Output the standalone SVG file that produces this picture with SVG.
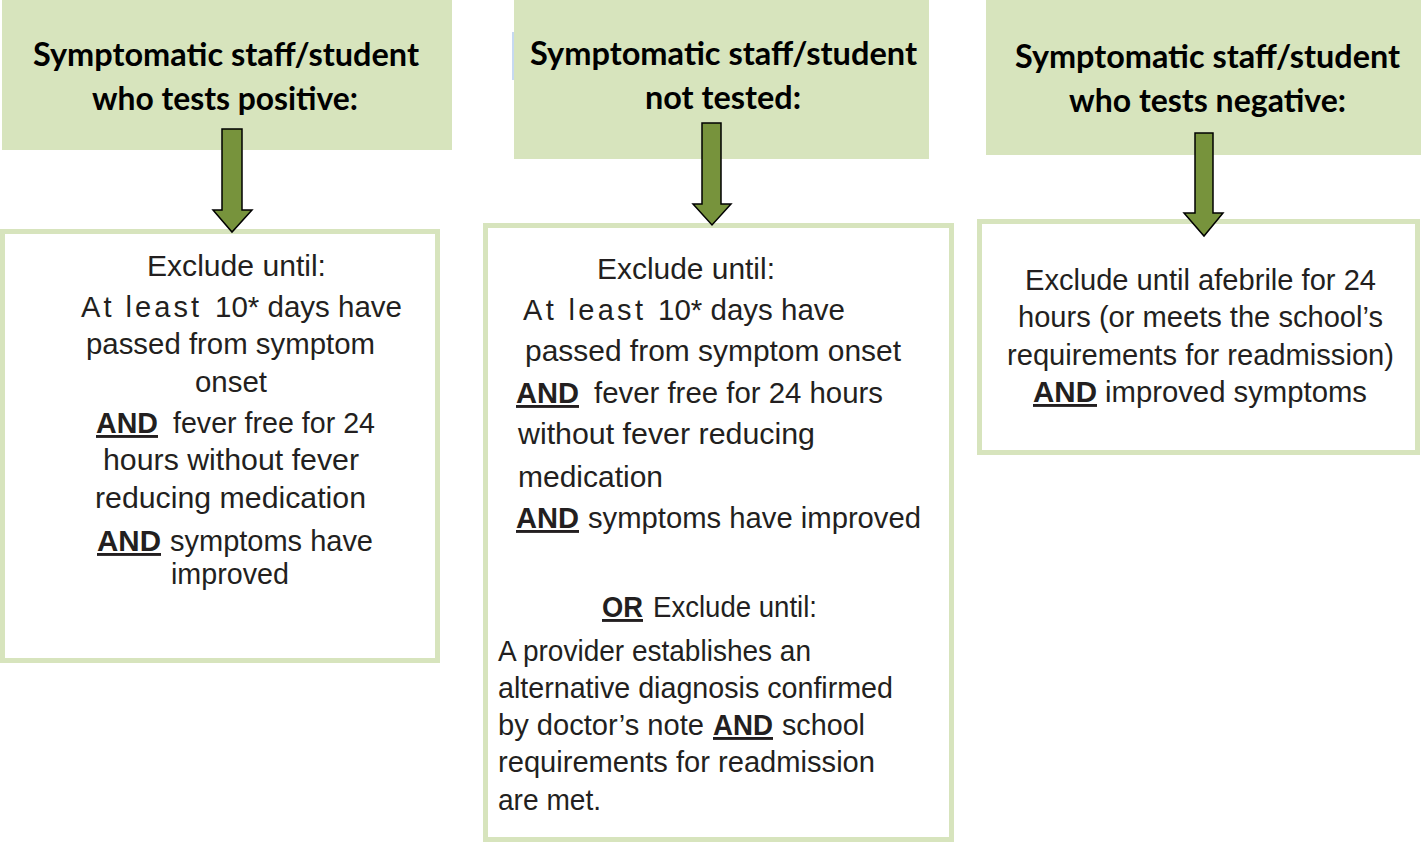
<svg xmlns="http://www.w3.org/2000/svg" width="1421" height="842" viewBox="0 0 1421 842">
<style>
.hbox{fill:#d7e4bd;stroke:none}
.box{fill:#ffffff;stroke:#d7e4bd;stroke-width:5}
.hdr{font-family:Lato,"Open Sans","Liberation Sans",sans-serif;font-weight:700;font-size:32px;fill:#000000}
.t{font-family:"Liberation Sans",Arial,sans-serif;font-size:29px;fill:#231f20}
.b{font-weight:700;text-decoration:underline}
.arrow{fill:#77933c;stroke:#000000;stroke-width:1.5;stroke-linejoin:miter}
</style>
<rect width="1421" height="842" fill="#ffffff"/>

<g id="header-positive">
  <rect class="hbox" x="2" y="0" width="450" height="150"/>
  <text class="hdr" x="33" y="66" textLength="386" lengthAdjust="spacingAndGlyphs">Symptomatic staff/student</text>
  <text class="hdr" x="92" y="110" textLength="266" lengthAdjust="spacingAndGlyphs">who tests positive:</text>
</g>

<g id="header-not-tested">
  <rect x="512" y="32" width="2" height="48" fill="#c6d9f1"/>
  <rect class="hbox" x="514" y="0" width="415" height="159"/>
  <text class="hdr" x="530" y="65" textLength="387" lengthAdjust="spacingAndGlyphs">Symptomatic staff/student</text>
  <text class="hdr" x="645" y="109" textLength="156" lengthAdjust="spacingAndGlyphs">not tested:</text>
</g>

<g id="header-negative">
  <rect class="hbox" x="986" y="0" width="435" height="155"/>
  <text class="hdr" x="1015" y="68" textLength="385" lengthAdjust="spacingAndGlyphs">Symptomatic staff/student</text>
  <text class="hdr" x="1069" y="112" textLength="277" lengthAdjust="spacingAndGlyphs">who tests negative:</text>
</g>

<g id="box-positive">
  <rect class="box" x="2.5" y="231.5" width="435" height="429"/>
  <text class="t" x="147" y="276" textLength="179" lengthAdjust="spacingAndGlyphs">Exclude until:</text>
  <text class="t" x="81" y="317" textLength="118" lengthAdjust="spacing">At least</text>
  <text class="t" x="215" y="317" textLength="187" lengthAdjust="spacingAndGlyphs">10* days have</text>
  <text class="t" x="86" y="354" textLength="289" lengthAdjust="spacingAndGlyphs">passed from symptom</text>
  <text class="t" x="195" y="392" textLength="72" lengthAdjust="spacingAndGlyphs">onset</text>
  <text class="t b" x="96" y="433" textLength="62" lengthAdjust="spacingAndGlyphs">AND</text>
  <text class="t" x="173" y="433" textLength="202" lengthAdjust="spacingAndGlyphs">fever free for 24</text>
  <text class="t" x="103" y="470" textLength="256" lengthAdjust="spacingAndGlyphs">hours without fever</text>
  <text class="t" x="95" y="508" textLength="271" lengthAdjust="spacingAndGlyphs">reducing medication</text>
  <text class="t b" x="97" y="551" textLength="64" lengthAdjust="spacingAndGlyphs">AND</text>
  <text class="t" x="170" y="551" textLength="203" lengthAdjust="spacingAndGlyphs">symptoms have</text>
  <text class="t" x="171" y="584" textLength="118" lengthAdjust="spacingAndGlyphs">improved</text>
</g>

<g id="box-not-tested">
  <rect class="box" x="485.5" y="225.5" width="466" height="614"/>
  <text class="t" x="597" y="279" textLength="178" lengthAdjust="spacingAndGlyphs">Exclude until:</text>
  <text class="t" x="523" y="320" textLength="120" lengthAdjust="spacing">At least</text>
  <text class="t" x="658" y="320" textLength="187" lengthAdjust="spacingAndGlyphs">10* days have</text>
  <text class="t" x="525" y="361" textLength="376" lengthAdjust="spacingAndGlyphs">passed from symptom  onset</text>
  <text class="t b" x="516" y="403" textLength="63" lengthAdjust="spacingAndGlyphs">AND</text>
  <text class="t" x="594" y="403" textLength="289" lengthAdjust="spacingAndGlyphs">fever free for 24 hours</text>
  <text class="t" x="518" y="444" textLength="297" lengthAdjust="spacingAndGlyphs">without fever reducing</text>
  <text class="t" x="518" y="487" textLength="145" lengthAdjust="spacingAndGlyphs">medication</text>
  <text class="t b" x="516" y="528" textLength="63" lengthAdjust="spacingAndGlyphs">AND</text>
  <text class="t" x="588" y="528" textLength="333" lengthAdjust="spacingAndGlyphs">symptoms have improved</text>
  <text class="t b" x="602" y="617" textLength="41" lengthAdjust="spacingAndGlyphs">OR</text>
  <text class="t" x="653" y="617" textLength="164" lengthAdjust="spacingAndGlyphs">Exclude until:</text>
  <text class="t" x="498" y="661" textLength="313" lengthAdjust="spacingAndGlyphs">A provider establishes an</text>
  <text class="t" x="498" y="698" textLength="395" lengthAdjust="spacingAndGlyphs">alternative diagnosis confirmed</text>
  <text class="t" x="498" y="735" textLength="206" lengthAdjust="spacingAndGlyphs">by doctor’s note</text>
  <text class="t b" x="713" y="735" textLength="60" lengthAdjust="spacingAndGlyphs">AND</text>
  <text class="t" x="782" y="735" textLength="83" lengthAdjust="spacingAndGlyphs">school</text>
  <text class="t" x="498" y="772" textLength="377" lengthAdjust="spacingAndGlyphs">requirements for readmission</text>
  <text class="t" x="498" y="810" textLength="103" lengthAdjust="spacingAndGlyphs">are met.</text>
</g>

<g id="box-negative">
  <rect class="box" x="979.5" y="221.5" width="438" height="231"/>
  <text class="t" x="1025" y="290" textLength="351" lengthAdjust="spacingAndGlyphs">Exclude until afebrile for 24</text>
  <text class="t" x="1018" y="327" textLength="365" lengthAdjust="spacingAndGlyphs">hours (or meets the school’s</text>
  <text class="t" x="1007" y="365" textLength="387" lengthAdjust="spacingAndGlyphs">requirements for readmission)</text>
  <text class="t b" x="1033" y="402" textLength="64" lengthAdjust="spacingAndGlyphs">AND</text>
  <text class="t" x="1105" y="402" textLength="262" lengthAdjust="spacingAndGlyphs">improved symptoms</text>
</g>

<g id="connectors">
  <polygon class="arrow" points="222,129 242,129 242,210 252,210 232,232 213,210 222,210"/>
  <polygon class="arrow" points="702,123 721,123 721,204 731,204 712,225 693,204 702,204"/>
  <polygon class="arrow" points="1195,133 1213,133 1213,213 1223,213 1204,236 1184,213 1195,213"/>
</g>
</svg>
